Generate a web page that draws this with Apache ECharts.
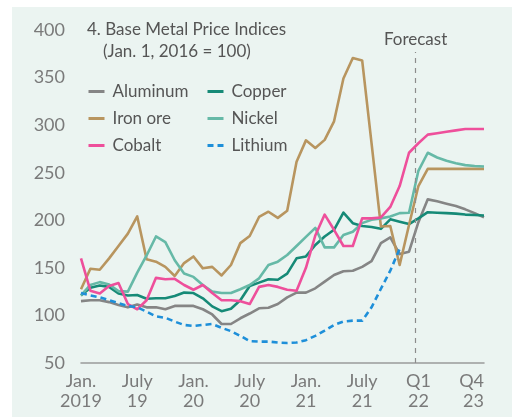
<!DOCTYPE html>
<html>
<head>
<meta charset="utf-8">
<script src="https://cdn.jsdelivr.net/npm/echarts@6/dist/echarts.min.js"></script>
<style>
html,body{margin:0;padding:0;background:#fff;}
#chart{width:512px;height:417px;}
</style>
</head>
<body>
<div id="chart"></div>
<script>
// ---- Data ----
const categories = [
  '2019-01','2019-02','2019-03','2019-04','2019-05','2019-06','2019-07','2019-08','2019-09','2019-10','2019-11','2019-12',
  '2020-01','2020-02','2020-03','2020-04','2020-05','2020-06','2020-07','2020-08','2020-09','2020-10','2020-11','2020-12',
  '2021-01','2021-02','2021-03','2021-04','2021-05','2021-06','2021-07','2021-08','2021-09','2021-10','2021-11','2021-12',
  '2022Q1','2022Q2','2022Q3','2022Q4','2023Q1','2023Q2','2023Q3','2023Q4'
];
const tickLabels = [
  ['2019-01', 'Jan.\n2019'],
  ['2019-07', 'July\n19'],
  ['2020-01', 'Jan.\n20'],
  ['2020-07', 'July\n20'],
  ['2021-01', 'Jan.\n21'],
  ['2021-07', 'July\n21'],
  ['2022Q1', 'Q1\n22'],
  ['2023Q4', 'Q4\n23']
];
const yTicks = { min: 50, max: 400, interval: 50 };
const forecastStart = 35.7; // position of the forecast divider on the category index scale
const forecastTop = 377;

const aluminum = [115,116,116,114,111,108.5,111.5,108.5,108.5,106.5,110,110,
  110,106.5,101,91,91,97,102,107.5,108,112,119,124,
  124,128.5,135.5,142.5,146.5,147,151,157,176,182,164.5,167,
  198,222,220,217.5,215,211.5,207.5,203];
const copper = [121,129,131.5,130,123,121,121.5,117.5,118,118,120.5,124,
  123.5,118,109.5,104.5,107,116,131,134.5,138,137.5,144,160,
  162,174,183,190,208,197,194,193,191,201,198.5,196,
  202,208.5,208,207.5,207,206,205.5,205];
const ironOre = [127.5,149,148,160,173,186,204,159,156.5,151,141.5,155,
  162,149.5,151,142,153,176,183.5,203.5,209,202.5,210,261.5,
  284,276,284.5,304,349,370.5,368,281,193.5,194,153,195,
  236,254,254,254,254,254,254,254];
const nickel = [121,132,135,132.5,125.5,125,145,163,183,177,158,144,
  140.5,132,125,123.5,123.5,127.5,132,139,153,156.5,163.5,173,
  182.5,192,171.5,171.5,184.5,188,197,200.5,202,204,207.5,208,
  252,271,266,262.5,260,258,257,256.5];
const cobalt = [160,126,123,131,134,112,106.5,116,139.5,138,138.5,132,
  127,132,123.5,116,116,115,112,130,132,130,127,126,
  150,184,206,190,173,173,202,202,203,214,236,271,
  281,290,291.5,293,294.5,296,296,296];
const lithium = [123.5,121,119,116,113,110,108.5,104,99,97.5,93.5,90,
  89,90,91,87,83.5,78.5,73,72.5,72.5,71.5,71,71.5,
  74,78.5,84,90,93.5,94.5,94.5,108.5,128,147,170];

const seriesDefs = [
  { name: 'Aluminum', data: aluminum, color: '#858585' },
  { name: 'Copper',   data: copper,   color: '#168a77' },
  { name: 'Iron ore', data: ironOre,  color: '#b8955f' },
  { name: 'Nickel',   data: nickel,   color: '#66b9a7' },
  { name: 'Cobalt',   data: cobalt,   color: '#ee4f9b' },
  { name: 'Lithium',  data: lithium,  color: '#1e8fd9', dashed: true }
];

// ---- Chart ----
const FONT = 'Lato';
const labelMap = {};
tickLabels.forEach(t => { labelMap[t[0]] = t[1]; });

const chart = echarts.init(document.getElementById('chart'), null, { renderer: 'canvas' });

const series = seriesDefs.map(s => ({
  name: s.name,
  type: 'line',
  data: s.data,
  symbol: 'none',
  smooth: false,
  z: 3,
  lineStyle: { color: s.color, width: 2.6, type: s.dashed ? [6, 4] : 'solid', cap: 'butt', join: 'round' },
  itemStyle: { color: s.color }
}));

series.push({
  name: 'forecastDivider',
  type: 'line',
  xAxisIndex: 1,
  yAxisIndex: 0,
  data: [],
  symbol: 'none',
  markLine: {
    silent: true,
    symbol: 'none',
    lineStyle: { color: '#8c8c8c', width: 1.2, type: [5, 5] },
    label: {
      show: true,
      position: 'end',
      formatter: 'Forecast',
      color: '#555',
      fontFamily: FONT,
      fontSize: 17,
      distance: 4
    },
    data: [[{ coord: [forecastStart, yTicks.min] }, { coord: [forecastStart, forecastTop] }]]
  }
});

const legendCommon = {
  orient: 'vertical',
  top: 83,
  itemWidth: 16,
  itemHeight: 10,
  itemGap: 10,
  padding: 0,
  itemStyle: { opacity: 0 },
  lineStyle: { width: 3 },
  textStyle: { color: '#555', fontFamily: FONT, fontSize: 17, padding: [0, 0, 0, 3] },
  selectedMode: false
};

chart.setOption({
  backgroundColor: '#ffffff',
  animation: false,
  graphic: [{
    type: 'rect',
    z: -10,
    silent: true,
    shape: { x: 12, y: 7, width: 500, height: 410 },
    style: { fill: '#ebf4f1' }
  }],
  title: [
    { text: '4. Base Metal Price Indices', left: 87, top: 21, padding: 0,
      textStyle: { color: '#555', fontFamily: FONT, fontSize: 17, fontWeight: 'normal' } },
    { text: '(Jan. 1, 2016 = 100)', left: 103, top: 43, padding: 0,
      textStyle: { color: '#555', fontFamily: FONT, fontSize: 17, fontWeight: 'normal' } }
  ],
  legend: [
    Object.assign({}, legendCommon, { left: 87, data: ['Aluminum', 'Iron ore', 'Cobalt'] }),
    Object.assign({}, legendCommon, { left: 206, data: ['Copper', 'Nickel', 'Lithium'] })
  ],
  grid: { left: 81, right: 28, top: 30, bottom: 54, containLabel: false },
  xAxis: [{
    type: 'category',
    data: categories,
    boundaryGap: false,
    axisLine: { show: true, lineStyle: { color: '#9a9a9a', width: 1.5 } },
    axisTick: { show: false },
    splitLine: { show: false },
    axisLabel: {
      interval: 0,
      color: '#7a7a7a',
      fontFamily: FONT,
      fontSize: 18,
      lineHeight: 20,
      margin: 8,
      alignMaxLabel: 'right',
      formatter: v => labelMap[v] || ''
    }
  }, {
    type: 'value',
    min: 0,
    max: categories.length - 1,
    show: false
  }],
  yAxis: {
    type: 'value',
    min: yTicks.min,
    max: yTicks.max,
    interval: yTicks.interval,
    axisLine: { show: false },
    axisTick: { show: false },
    splitLine: { show: false },
    axisLabel: { color: '#7a7a7a', fontFamily: FONT, fontSize: 18, margin: 16 }
  },
  series: series
});
</script>
</body>
</html>
